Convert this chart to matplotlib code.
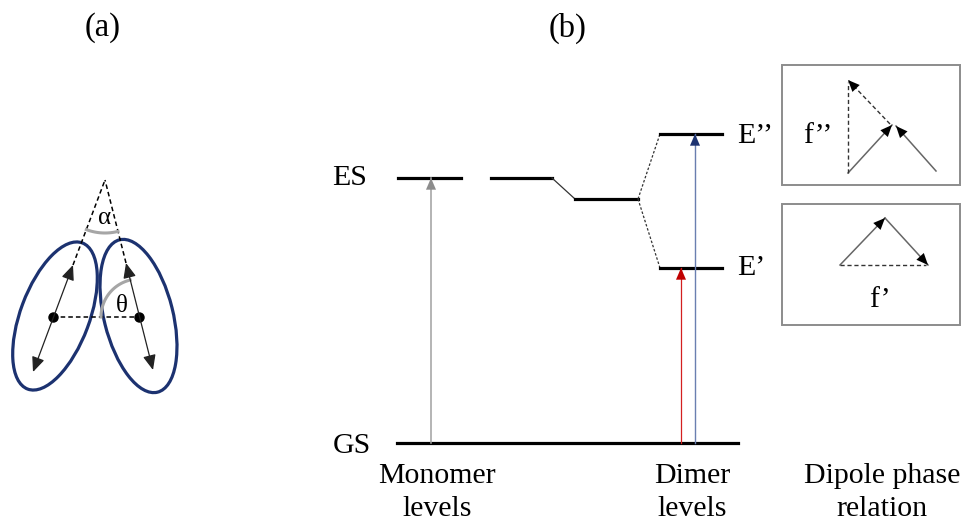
import numpy as np
import matplotlib
matplotlib.use("Agg")
import matplotlib.pyplot as plt
from matplotlib.patches import Ellipse, Rectangle

# ---- data (diagram values, in figure pixel units; y grows downward) ----
panel_labels = ["(a)", "(b)"]
level_names = ["GS", "ES", "E\u2019", "E\u2019\u2019"]
energy_gs = 443
energy_es = 178
energy_mid = 199
energy_e1 = 268
energy_e2 = 134
bottom_labels = [["Monomer", "levels"], ["Dimer", "levels"], ["Dipole phase", "relation"]]
box_labels = ["f\u2019\u2019", "f\u2019"]
angle_labels = ["\u03b1", "\u03b8"]

FONT = "Liberation Serif"
W, H = 967, 524
fig = plt.figure(figsize=(W / 100, H / 100), dpi=100)
ax = fig.add_axes([0, 0, 1, 1])
ax.set_xlim(0, W)
ax.set_ylim(H, 0)
ax.axis("off")

def txt(x, y, s, size=21.5, ha="center", va="baseline", **kw):
    ax.text(x, y, s, fontsize=size, family=FONT, ha=ha, va=va, **kw)

def arrow(p0, p1, color="black", lw=1.0, ls="-", style="-|>", ms=12, hl=0.7, hw=0.3,
          head_color=None):
    if head_color is None:
        ax.annotate("", xy=p1, xytext=p0,
                    arrowprops=dict(arrowstyle=f"{style},head_length={hl},head_width={hw}",
                                    color=color, lw=lw, ls=ls, shrinkA=0, shrinkB=0,
                                    mutation_scale=ms))
    else:
        ax.plot([p0[0], p1[0]], [p0[1], p1[1]], color=color, lw=lw, ls=ls)
        f = 0.75
        q = (p0[0] + f * (p1[0] - p0[0]), p0[1] + f * (p1[1] - p0[1]))
        ax.annotate("", xy=p1, xytext=q,
                    arrowprops=dict(arrowstyle=f"-|>,head_length={hl},head_width={hw}",
                                    color=head_color, lw=0.01, shrinkA=0, shrinkB=0,
                                    mutation_scale=ms))

# ---- panel labels ----
txt(103, 28, panel_labels[0], size=23.5, va="center")
txt(568, 28, panel_labels[1], size=23.5, va="center")

# ---- panel (a) ----
navy = "#1c3270"
ax.add_patch(Ellipse((55, 316), 69, 156, angle=20.5, fill=False, ec=navy, lw=2.3))
ax.add_patch(Ellipse((138.5, 316), 69, 157, angle=-14, fill=False, ec=navy, lw=2.3))
apex = (105, 180)
dotL, dotR = (53, 317), (139, 317)
ax.plot([dotL[0], dotR[0]], [dotL[1], dotR[1]], ls=(0, (3, 2)), color="black", lw=1.1)
ax.plot([73, apex[0]], [265, apex[1]], ls=(0, (3, 2)), color="black", lw=1.1)
ax.plot([126, apex[0]], [263, apex[1]], ls=(0, (3, 2)), color="black", lw=1.1)
arrow((33, 372), (73, 265), color="#222222", lw=0.9, style="<|-|>", ms=13)
arrow((153, 370), (126, 263), color="#222222", lw=0.9, style="<|-|>", ms=13)
ax.plot([dotL[0], dotR[0]], [dotL[1], dotR[1]], "o", color="black", ms=6.5)
# angle arcs
t = np.radians(np.linspace(75.8, 110.6, 40))
ax.plot(apex[0] + 53 * np.cos(t), apex[1] + 53 * np.sin(t), color="#a6a6a6", lw=2.2)
t = np.radians(np.linspace(180, 256.5, 40))
ax.plot(dotR[0] + 38 * np.cos(t), dotR[1] + 38 * np.sin(t), color="#a6a6a6", lw=2.2)
txt(105, 218, angle_labels[0], size=18, va="center")
txt(122, 306, angle_labels[1], size=18, va="center")

# ---- panel (b) levels ----
lvl_lw = 2.3
ax.plot([397, 738], [energy_gs, energy_gs], color="black", lw=lvl_lw)
ax.plot([398, 461], [energy_es, energy_es], color="black", lw=lvl_lw)
ax.plot([491, 552], [energy_es, energy_es], color="black", lw=lvl_lw)
ax.plot([552, 575], [energy_es, energy_mid], color="#333333", lw=0.9)
ax.plot([575, 638], [energy_mid, energy_mid], color="black", lw=lvl_lw)
ax.plot([638, 660], [energy_mid, energy_e2], color="#333333", lw=0.9, ls=(0, (2, 1.5)))
ax.plot([638, 660], [energy_mid, energy_e1], color="#333333", lw=0.9, ls=(0, (2, 1.5)))
ax.plot([660, 722], [energy_e2, energy_e2], color="black", lw=lvl_lw)
ax.plot([660, 722], [energy_e1, energy_e1], color="black", lw=lvl_lw)

# transitions
arrow((431, energy_gs), (431, energy_es), color="#a0a0a0", lw=1.1, head_color="#8c8c8c")
arrow((681, energy_gs), (681, energy_e1), color="#d42020", lw=0.9, head_color="#c00000")
arrow((695, energy_gs), (695, energy_e2), color="#6a7fb0", lw=1.0, head_color="#1c3270")

# level labels
txt(350, energy_es + 7, level_names[1])
txt(352, energy_gs + 10, level_names[0])
txt(737, energy_e1 + 7, level_names[2], ha="left")
txt(737, energy_e2 + 9, level_names[3], ha="left")

# bottom labels
for xc, lines in zip([437, 692, 882], bottom_labels):
    txt(xc, 483, lines[0])
    txt(xc, 516, lines[1])

# ---- dipole phase boxes ----
box_c = "#8c8c8c"
ax.add_patch(Rectangle((782, 65), 178, 120, fill=False, ec=box_c, lw=1.4))
ax.add_patch(Rectangle((782, 204), 178, 121, fill=False, ec=box_c, lw=1.4))
dip_c = "#666666"
# box 1 (f'')
arrow((848, 173), (892, 125), color=dip_c, lw=1.1, head_color="black")
arrow((936, 171), (896, 126), color=dip_c, lw=1.1, head_color="black")
ax.plot([848, 848], [173, 82], color="#333333", lw=1.0, ls=(0, (3, 2)))
arrow((890, 124), (848, 80), color="#333333", lw=1.0, ls=(0, (3, 2)), head_color="black")
txt(818, 143, box_labels[0])
# box 2 (f')
arrow((840, 265), (885, 218), color=dip_c, lw=1.1, head_color="black")
arrow((885, 218), (928, 265), color=dip_c, lw=1.1, head_color="black")
ax.plot([840, 926], [265, 265], color="#333333", lw=1.0, ls=(0, (3, 2)))
txt(880, 307, box_labels[1])

fig.savefig("out.png", dpi=100)
